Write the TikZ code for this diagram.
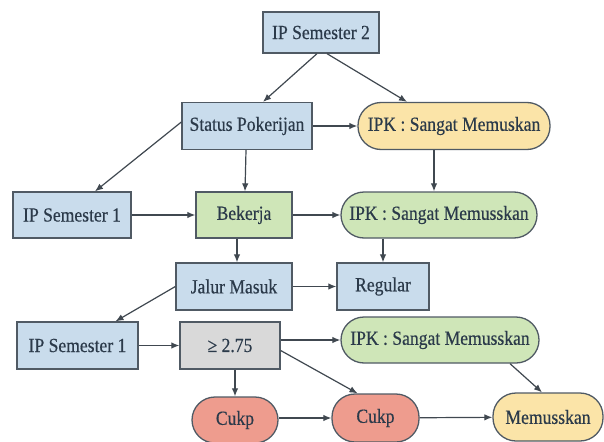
\documentclass[tikz,border=0pt]{standalone}
\usepackage{fontspec}
\setmainfont[FakeStretch=0.88,FakeBold=0.4]{Liberation Serif}
\usepackage{tikz}
\usetikzlibrary{arrows.meta}

\definecolor{boxblue}{HTML}{C9DCEC}
\definecolor{boxgreen}{HTML}{CFE6B8}
\definecolor{boxyellow}{HTML}{FBE4A8}
\definecolor{boxred}{HTML}{EE9C8E}
\definecolor{boxgray}{HTML}{D9D9D9}
\definecolor{edgegray}{HTML}{505A64}
\definecolor{inkdark}{HTML}{2B3A4A}

\begin{document}
\begin{tikzpicture}[x=1pt,y=-1pt,
	box/.style={draw=edgegray,line width=1.3pt,inner sep=0pt,minimum height=47pt,text=inkdark,
		font=\fontsize{20}{22}\selectfont},
	pill/.style={box,rounded corners=23pt},
	arr/.style={draw=edgegray!80!black,line width=1.2pt,-{Latex[length=8pt,width=6.5pt]}}]
	\useasboundingbox[fill=white] (0,0) rectangle (604,441);
			\node[box,fill=boxblue,minimum width=116pt,minimum height=41pt](s2) at (321,32.5) {IP Semester 2};
			\node[box,fill=boxblue,minimum width=130pt](sp) at (247,126) {Status Pokerijan};
			\node[pill,fill=boxyellow,minimum width=192pt](ipk1) at (454,126) {IPK : Sangat Memuskan};
			\node[box,fill=boxblue,minimum width=118pt,minimum height=46pt](s1a) at (72,215) {IP Semester 1};
			\node[box,fill=boxgreen,minimum width=96pt,minimum height=46pt](bk) at (244,215) {Bekerja};
			\node[pill,fill=boxgreen,minimum width=196pt,minimum height=46pt](ipk2) at (439,215) {IPK : Sangat Memusskan};
			\node[box,fill=boxblue,minimum width=116pt](jm) at (234,286.5) {Jalur Masuk};
			\node[box,fill=boxblue,minimum width=92pt](rg) at (383,286.5) {Regular};
			\node[box,fill=boxblue,minimum width=121pt](s1b) at (77.5,345.5) {IP Semester 1};
			\node[box,fill=boxgray,minimum width=100pt](ge) at (230,345.5) {≥ 2.75};
			\node[pill,fill=boxgreen,minimum width=198pt,minimum height=46pt](ipk3) at (440,340) {IPK : Sangat Memusskan};
			\node[pill,fill=boxred,minimum width=86pt,minimum height=46pt](ck1) at (235,420) {Cukp};
			\node[pill,fill=boxred,minimum width=87pt,minimum height=48pt](ck2) at (375.5,418) {Cukp};
			\node[pill,fill=boxyellow,minimum width=110pt,minimum height=48pt](mem) at (548,417) {Memusskan};
			\draw[arr] ([xshift=-4pt]s2.south)--([xshift=16pt]sp.north);
			\draw[arr] ([xshift=6pt]s2.south)--([xshift=-47pt]ipk1.north);
			\draw[arr] (sp.east)--(ipk1.west);
			\draw[arr] ([yshift=4pt]sp.west)--([xshift=23pt]s1a.north);
			\draw[arr] ([xshift=-1pt]sp.south)--([xshift=1pt]bk.north);
			\draw[arr] ([xshift=-20pt]ipk1.south)--([xshift=-5pt]ipk2.north);
			\draw[arr] (s1a)--(bk);
			\draw[arr] (bk)--(ipk2);
			\draw[arr] ([xshift=-7pt]bk.south)--([xshift=3pt]jm.north);
			\draw[arr] ([xshift=-56pt]ipk2.south)--(rg.north);
			\draw[arr] (jm)--(rg);
			\draw[arr] (jm.west)--([xshift=38pt]s1b.north);
			\draw[arr] (s1b)--(ge);
			\draw[arr] (ge.east |- ipk3.west)--(ipk3.west);
			\draw[arr] ([yshift=-5pt]ge.east)--([xshift=-18pt]ck2.north);
			\draw[arr] ([xshift=5pt]ge.south)--(ck1.north);
			\draw[arr] (ck1.east |- ck2.west)--(ck2.west);
			\draw[arr] (ck2)--(mem);
			\draw[arr] ([xshift=70pt]ipk3.south)--([xshift=-6pt]mem.north);
		\end{tikzpicture}
\end{document}
